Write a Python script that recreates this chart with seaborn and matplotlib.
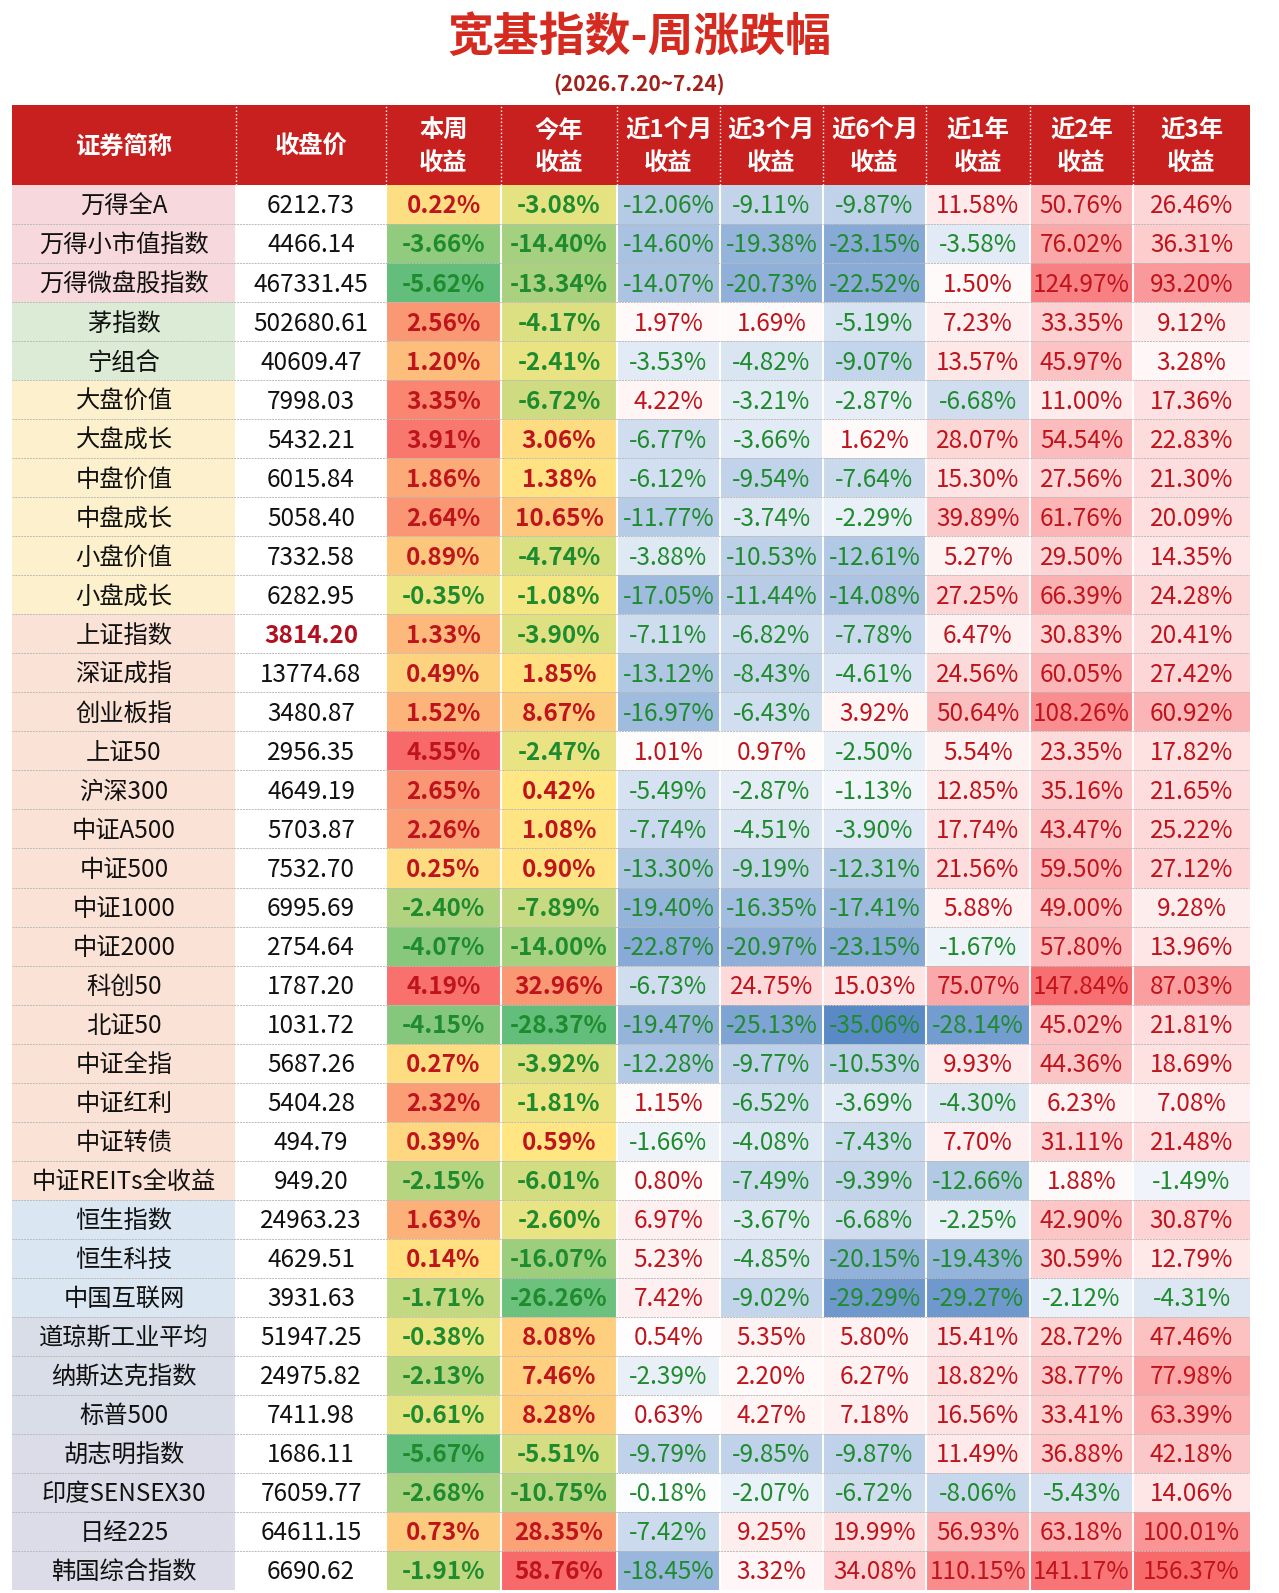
import numpy as np
import matplotlib
matplotlib.use("Agg")
import matplotlib.pyplot as plt
from matplotlib.colors import ListedColormap, to_rgb
from matplotlib.patches import Rectangle
import seaborn as sns

sns.set_theme(style="white")
plt.rcParams['font.family'] = ['Noto Sans CJK SC', 'DejaVu Sans']

names = ["万得全A","万得小市值指数","万得微盘股指数","茅指数","宁组合","大盘价值","大盘成长","中盘价值","中盘成长","小盘价值","小盘成长","上证指数","深证成指","创业板指","上证50","沪深300","中证A500","中证500","中证1000","中证2000","科创50","北证50","中证全指","中证红利","中证转债","中证REITs全收益","恒生指数","恒生科技","中国互联网","道琼斯工业平均","纳斯达克指数","标普500","胡志明指数","印度SENSEX30","日经225","韩国综合指数"]
close = [6212.73,4466.14,467331.45,502680.61,40609.47,7998.03,5432.21,6015.84,5058.40,7332.58,6282.95,3814.20,13774.68,3480.87,2956.35,4649.19,5703.87,7532.70,6995.69,2754.64,1787.20,1031.72,5687.26,5404.28,494.79,949.20,24963.23,4629.51,3931.63,51947.25,24975.82,7411.98,1686.11,76059.77,64611.15,6690.62]
week = [0.22,-3.66,-5.62,2.56,1.20,3.35,3.91,1.86,2.64,0.89,-0.35,1.33,0.49,1.52,4.55,2.65,2.26,0.25,-2.40,-4.07,4.19,-4.15,0.27,2.32,0.39,-2.15,1.63,0.14,-1.71,-0.38,-2.13,-0.61,-5.67,-2.68,0.73,-1.91]
ytd = [-3.08,-14.40,-13.34,-4.17,-2.41,-6.72,3.06,1.38,10.65,-4.74,-1.08,-3.90,1.85,8.67,-2.47,0.42,1.08,0.90,-7.89,-14.00,32.96,-28.37,-3.92,-1.81,0.59,-6.01,-2.60,-16.07,-26.26,8.08,7.46,8.28,-5.51,-10.75,28.35,58.76]
m1 = [-12.06,-14.60,-14.07,1.97,-3.53,4.22,-6.77,-6.12,-11.77,-3.88,-17.05,-7.11,-13.12,-16.97,1.01,-5.49,-7.74,-13.30,-19.40,-22.87,-6.73,-19.47,-12.28,1.15,-1.66,0.80,6.97,5.23,7.42,0.54,-2.39,0.63,-9.79,-0.18,-7.42,-18.45]
m3 = [-9.11,-19.38,-20.73,1.69,-4.82,-3.21,-3.66,-9.54,-3.74,-10.53,-11.44,-6.82,-8.43,-6.43,0.97,-2.87,-4.51,-9.19,-16.35,-20.97,24.75,-25.13,-9.77,-6.52,-4.08,-7.49,-3.67,-4.85,-9.02,5.35,2.20,4.27,-9.85,-2.07,9.25,3.32]
m6 = [-9.87,-23.15,-22.52,-5.19,-9.07,-2.87,1.62,-7.64,-2.29,-12.61,-14.08,-7.78,-4.61,3.92,-2.50,-1.13,-3.90,-12.31,-17.41,-23.15,15.03,-35.06,-10.53,-3.69,-7.43,-9.39,-6.68,-20.15,-29.29,5.80,6.27,7.18,-9.87,-6.72,19.99,34.08]
y1 = [11.58,-3.58,1.50,7.23,13.57,-6.68,28.07,15.30,39.89,5.27,27.25,6.47,24.56,50.64,5.54,12.85,17.74,21.56,5.88,-1.67,75.07,-28.14,9.93,-4.30,7.70,-12.66,-2.25,-19.43,-29.27,15.41,18.82,16.56,11.49,-8.06,56.93,110.15]
y2 = [50.76,76.02,124.97,33.35,45.97,11.00,54.54,27.56,61.76,29.50,66.39,30.83,60.05,108.26,23.35,35.16,43.47,59.50,49.00,57.80,147.84,45.02,44.36,6.23,31.11,1.88,42.90,30.59,-2.12,28.72,38.77,33.41,36.88,-5.43,63.18,141.17]
y3 = [26.46,36.31,93.20,9.12,3.28,17.36,22.83,21.30,20.09,14.35,24.28,20.41,27.42,60.92,17.82,21.65,25.22,27.12,9.28,13.96,87.03,21.81,18.69,7.08,21.48,-1.49,30.87,12.79,-4.31,47.46,77.98,63.39,42.18,14.06,100.01,156.37]
headers = ["证券简称","收盘价","本周\n收益","今年\n收益","近1个月\n收益","近3个月\n收益","近6个月\n收益","近1年\n收益","近2年\n收益","近3年\n收益"]
group_sizes = [3, 2, 6, 15, 3, 3, 4]
group_colors = ["#f7d9dd", "#dcebd6", "#fdf0cc", "#fbe2d6", "#dae6f2", "#d8dde8", "#dcdce8"]

W, H = 1279, 1593
edges = [12, 236, 386, 501, 617, 720, 823, 926, 1030, 1133, 1250]
top, bottom = 185, 1590
n = len(names)

def mix(c1, c2, t):
    a, b = np.array(to_rgb(c1)), np.array(to_rgb(c2))
    return tuple(a + (b - a) * t)

def ryg(v, col):
    mx, mn = max(col), min(col)
    if v >= 0:
        return mix("#ffe984", "#f8696b", (v / mx) ** 0.8 if mx > 0 else 0)
    return mix("#ffe984", "#63be7b", (v / mn) ** 0.8)

allp = m1 + m3 + m6 + y1 + y2 + y3
gmax, gmin = max(allp), min(allp)
def bwr(v):
    if v >= 0:
        return mix("#ffffff", "#f8696b", (v / gmax) ** 0.75)
    return mix("#ffffff", "#5a8ac6", (-v / -gmin) ** 0.75)

name_cols = []
for s, c in zip(group_sizes, group_colors):
    name_cols += [c] * s

cell_colors = []
for i in range(n):
    row = [to_rgb(name_cols[i]), to_rgb("#ffffff"), ryg(week[i], week), ryg(ytd[i], ytd)]
    row += [bwr(c[i]) for c in (m1, m3, m6, y1, y2, y3)]
    cell_colors.append(row)

uniq = []
idx = np.zeros((n, len(edges) - 1), dtype=int)
for i in range(n):
    for j in range(len(edges) - 1):
        c = tuple(round(x, 4) for x in cell_colors[i][j])
        if c not in uniq:
            uniq.append(c)
        idx[i, j] = uniq.index(c)
widths = np.diff(edges)
fine = np.repeat(idx, widths, axis=1)

fig = plt.figure(figsize=(W / 100, H / 100), dpi=100)
fig.patch.set_facecolor("white")
ax = fig.add_axes([edges[0] / W, 1 - bottom / H, (edges[-1] - edges[0]) / W, (bottom - top) / H])
sns.heatmap(fine, cmap=ListedColormap(uniq), vmin=-0.5, vmax=len(uniq) - 0.5, cbar=False,
            xticklabels=False, yticklabels=False, ax=ax)
ax.set_xlim(0, edges[-1] - edges[0])
ax.set_ylim(n, 0)

for e in edges[1:-1]:
    ax.axvline(e - edges[0], color="white", lw=1.5)
for r in range(1, n):
    ax.axhline(r, color="#bbbbbb", lw=0.7, ls=(0, (2, 1)))

centers = [(edges[j] + edges[j + 1]) / 2 - edges[0] for j in range(len(edges) - 1)]
pos_c, neg_c = "#c0141c", "#1e8c2e"
fs = 17.5
for i in range(n):
    ax.text(centers[0], i + 0.55, names[i], ha="center", va="center", fontsize=fs, color="#111111")
    if names[i] == "上证指数":
        ax.text(centers[1], i + 0.55, f"{close[i]:.2f}", ha="center", va="center", fontsize=fs,
                color="#b01020", fontweight="bold")
    else:
        ax.text(centers[1], i + 0.55, f"{close[i]:.2f}", ha="center", va="center", fontsize=fs, color="#111111")
    for j, col in enumerate([week, ytd, m1, m3, m6, y1, y2, y3]):
        v = col[i]
        bold = j < 2
        ax.text(centers[j + 2], i + 0.55, f"{v:.2f}%", ha="center", va="center",
                fontsize=fs, fontweight="bold" if bold else "normal",
                color=pos_c if v >= 0 else neg_c)

# header
hax = fig.add_axes([edges[0] / W, 1 - top / H, (edges[-1] - edges[0]) / W, 80 / H])
hax.set_xlim(0, edges[-1] - edges[0]); hax.set_ylim(1, 0); hax.axis("off")
hax.add_patch(Rectangle((0, 0), edges[-1] - edges[0], 1, color="#c8201f"))
for e in edges[1:-1]:
    hax.axvline(e - edges[0], color="white", lw=1, ls=":")
for j, h in enumerate(headers):
    hax.text(centers[j], 0.52, h, ha="center", va="center", fontsize=17.5, fontweight="bold",
             color="white", linespacing=1.45)

fig.text(0.5, 1 - 38 / H, "宽基指数-周涨跌幅", ha="center", va="center", fontsize=33,
         fontweight="bold", color="#d42a1f")
fig.text(0.5, 1 - 84 / H, "(2026.7.20~7.24)", ha="center", va="center", fontsize=15,
         fontweight="bold", color="#a0201a")

fig.savefig("out.png", dpi=100)
